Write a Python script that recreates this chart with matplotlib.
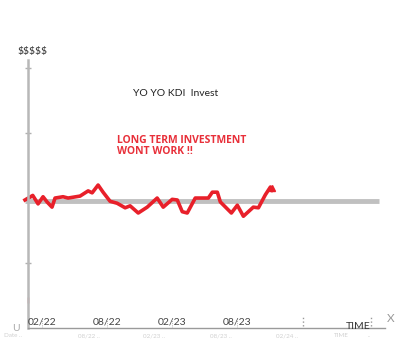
import matplotlib
matplotlib.use("Agg")
import matplotlib.pyplot as plt

plt.rcParams["font.family"] = ["Lato", "DejaVu Sans"]

# months since the y axis, value in "$" units
price_x = [-0.28, 0.44, 0.93, 1.39, 1.76, 2.22, 2.5, 3.24, 3.7, 4.81, 5.56, 5.93,
           6.48, 6.94, 7.59, 8.24, 8.98, 9.44, 10.19, 11.02, 11.94, 12.5, 13.33,
           13.8, 14.26, 14.72, 15.46, 16.67, 17.04, 17.5, 17.78, 18.8, 19.35,
           19.91, 20.83, 21.3, 21.94, 22.41, 22.59]
price_y = [1.97, 2.04, 1.91, 2.02, 1.94, 1.86, 2.0, 2.02, 2.0, 2.03, 2.11, 2.08,
           2.2, 2.09, 1.95, 1.92, 1.85, 1.88, 1.77, 1.86, 2.0, 1.86, 1.98, 1.97,
           1.79, 1.77, 2.0, 2.0, 2.09, 2.09, 1.94, 1.77, 1.89, 1.72, 1.86, 1.85,
           2.05, 2.17, 2.12]
baseline_x = [-0.28, 32.4]
baseline_y = [1.95, 1.95]

date_pos = [1.3, 7.3, 13.3, 19.3]
date_labels = ["02/22", "08/22", "02/23", "08/23"]
dotted_pos = [25.4, 31.7]
y_ticks = [1, 2, 3, 4]
# faint labels peeking in at the bottom edge
ghost_pos = [-2.2, 4.6, 10.6, 16.8, 22.9, 28.3, 31.4]
ghost_labels = ["Date ..", "08/22 ..", "02/23 ..", "08/23 ..", "02/24 ..", "TIME", ".."]

fig = plt.figure(figsize=(4, 3.4), dpi=100)
ax = fig.add_axes([0.07, 0.035, 0.8925, 0.788])
ax.set_xlim(0, 33)
ax.set_ylim(0, 4.12)

for s in ["top", "right"]:
    ax.spines[s].set_visible(False)
ax.spines["left"].set_color("#b8b8b8")
ax.spines["left"].set_linewidth(1.8)
ax.spines["bottom"].set_color("#9a9a9a")
ax.spines["bottom"].set_linewidth(1.0)

ax.set_yticks(y_ticks)
ax.set_yticklabels([])
ax.tick_params(axis="y", direction="inout", length=5, color="#b0b0b0", width=1)
ax.set_xticks([])

ax.plot(baseline_x, baseline_y, color="#c0c0c0", lw=3.5, clip_on=False,
        solid_capstyle="butt")
ax.plot(price_x, price_y, color="#e8202a", lw=2.6, clip_on=False,
        solid_joinstyle="round")
ax.plot([price_x[-1]], [price_y[-1] + 0.03], marker="^", color="#e8202a", ms=5)
ax.plot([0], [0.43], marker="|", color="#e8202a", ms=4, clip_on=False)

for x, lab in zip(date_pos, date_labels):
    ax.text(x, 0.1, lab, fontsize=7.5, color="#444444", ha="center", va="center")
    ax.plot([x, x], [0.0, 0.14], color="#999999", lw=0.6, ls=":")
for x in dotted_pos:
    ax.plot([x, x], [0.03, 0.2], color="#999999", lw=1, ls=":")
for x, lab in zip(ghost_pos, ghost_labels):
    ax.text(x, -0.115, lab, fontsize=4.5, color="#d0d0d0", ha="left", va="center",
            clip_on=False)

ax.text(30.5, 0.02, "TIME", fontsize=7.5, color="#333333", ha="center", va="center")
ax.text(33.2, 0.15, "X", fontsize=8.5, color="#999999", ha="left", va="center")
ax.text(-1.1, 0.0, "U", fontsize=7.5, color="#aaaaaa", ha="center", va="center")
ax.text(0.4, 4.26, "$$$$$", fontsize=7.5, color="#333333", ha="center", va="center",
        clip_on=False)
ax.text(13.6, 3.6, "YO YO KDI  Invest", fontsize=7.5, color="#222222", ha="center",
        va="center")
ax.text(8.2, 2.8, "LONG TERM INVESTMENT\nWONT WORK !!", fontsize=7.5,
        family=["Open Sans", "DejaVu Sans"], color="#e8303a", fontweight="bold",
        ha="left", va="center", linespacing=1.1)

fig.savefig("out.png", dpi=100)
